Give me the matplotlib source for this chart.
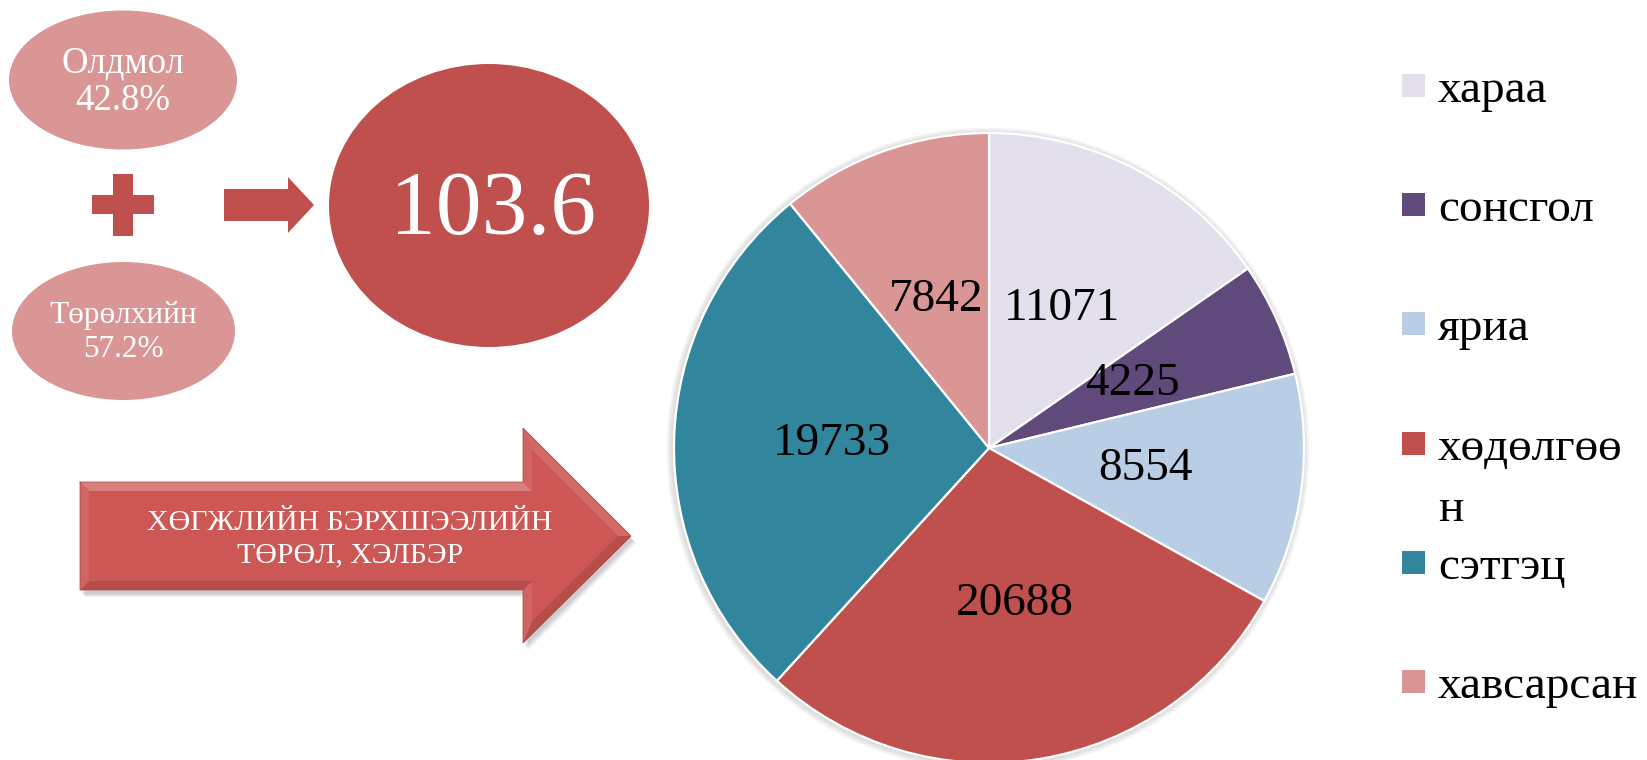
import matplotlib
matplotlib.use('Agg')
import matplotlib.pyplot as plt
from matplotlib.patches import Ellipse, Polygon, Rectangle, Circle
from matplotlib.colors import to_rgb
import numpy as np

# ---------------- data ----------------
categories = ['хараа', 'сонсгол', 'яриа', 'хөдөлгөөн', 'сэтгэц', 'хавсарсан']
legend_labels = ['хараа', 'сонсгол', 'яриа', 'хөдөлгөө\nн', 'сэтгэц', 'хавсарсан']
values = [11071, 4225, 8554, 20688, 19733, 7842]
colors = ['#E4DFEC', '#604A7B', '#B9CDE5', '#C0504D', '#31859C', '#D99694']

acquired_label = 'Олдмол'
acquired_pct = 42.8
congenital_label = 'Төрөлхийн'
congenital_pct = 57.2
total_value = 103.6
arrow_title = ['ХӨГЖЛИЙН БЭРХШЭЭЛИЙН', 'ТӨРӨЛ, ХЭЛБЭР']

# ---------------- figure ----------------
W, H = 1647, 760
fig = plt.figure(figsize=(W / 100, H / 100), dpi=100)
ax = fig.add_axes([0, 0, 1, 1])
SERIF = ['Liberation Serif', 'DejaVu Serif']
RED = '#C0504D'
PINK = '#D99694'


def Y(y):
    return H - y


def P(pts):
    return [(x, Y(y)) for x, y in pts]


# --- pie (with soft shadow) ---
pie_c = (989, Y(448))
pie_r = 315
for k in range(4):
    ax.add_patch(Circle((pie_c[0] - 1, pie_c[1] - 1), pie_r + 2 + 1.5 * k,
                        color='#555555', alpha=0.05, lw=0, zorder=0))

total = sum(values)
wedges, texts, autotexts = ax.pie(
    values, colors=colors, startangle=90, counterclock=False,
    center=pie_c, radius=pie_r,
    autopct=lambda p: f'{p * total / 100:.0f}', pctdistance=0.5,
    wedgeprops=dict(edgecolor='white', linewidth=1.6),
    textprops=dict(fontsize=34, family=SERIF, color='black'),
    frame=True)
for w in wedges:
    w.set_zorder(2)
for t in autotexts:
    t.set_zorder(3)

# --- left ellipses ---
ax.add_patch(Ellipse((123, Y(80)), 228, 139, color=PINK, lw=0))
ax.text(123, Y(72), acquired_label, ha='center', va='baseline', color='white',
        fontsize=26.5, family=SERIF)
ax.text(123, Y(110), f'{acquired_pct}%', ha='center', va='baseline', color='white',
        fontsize=26.5, family=SERIF)

ax.add_patch(Ellipse((123.5, Y(331)), 223, 138, color=PINK, lw=0))
ax.text(123, Y(323), congenital_label, ha='center', va='baseline', color='white',
        fontsize=22.5, family=SERIF)
ax.text(123, Y(357), f'{congenital_pct}%', ha='center', va='baseline', color='white',
        fontsize=22.5, family=SERIF)

# --- plus sign ---
ax.add_patch(Polygon(P([(113, 174), (133, 174), (133, 195), (154, 195), (154, 214),
                        (133, 214), (133, 236), (113, 236), (113, 214), (92, 214),
                        (92, 195), (113, 195)]), closed=True, color=RED, lw=0))

# --- small arrow ---
ax.add_patch(Polygon(P([(224, 189), (288, 189), (288, 177), (314, 205), (288, 233),
                        (288, 221), (224, 221)]), closed=True, color=RED, lw=0))

# --- big circle ---
ax.add_patch(Ellipse((489, Y(205.5)), 320, 283, color=RED, lw=0))
ax.text(493, Y(234), f'{total_value}', ha='center', va='baseline', color='white',
        fontsize=66, family=SERIF)


# --- big bevelled arrow ---
def inset(pts, d):
    pts = np.asarray(pts, float)
    n = len(pts)
    area = 0.5 * np.sum(pts[:, 0] * np.roll(pts[:, 1], -1) - np.roll(pts[:, 0], -1) * pts[:, 1])
    sgn = 1 if area > 0 else -1
    lines = []
    for i in range(n):
        p, q = pts[i], pts[(i + 1) % n]
        t = (q - p) / np.linalg.norm(q - p)
        nrm = np.array([-t[1], t[0]]) * sgn
        lines.append((p + nrm * d, t))
    out = []
    for i in range(n):
        p1, t1 = lines[i - 1]
        p2, t2 = lines[i]
        A = np.array([t1, -t2]).T
        a, b = np.linalg.solve(A, p2 - p1)
        out.append(p1 + a * t1)
    return np.array(out), sgn


big_arrow = np.array(P([(80, 482), (523, 482), (523, 428), (631, 536), (523, 643),
                        (523, 590), (80, 590)]), float)
# shadow
for k in range(4):
    ax.add_patch(Polygon(big_arrow + np.array([2 + k, -4 - k]), closed=True,
                         color='#666666', alpha=0.09, lw=0, zorder=1))
base = np.array(to_rgb('#CD5755'))
ax.add_patch(Polygon(big_arrow, closed=True, color=base, lw=0, zorder=2))
inner, sgn = inset(big_arrow, 9)
light = np.array([-0.35, 1.0])
light = light / np.linalg.norm(light)
n = len(big_arrow)
for i in range(n):
    p, q = big_arrow[i], big_arrow[(i + 1) % n]
    t = (q - p) / np.linalg.norm(q - p)
    n_out = -np.array([-t[1], t[0]]) * sgn
    s = float(np.dot(n_out, light))
    if s >= 0:
        col = base + (1 - base) * 0.25 * s
    else:
        col = base * (1 - 0.12 * (-s))
    quad = [big_arrow[i], big_arrow[(i + 1) % n], inner[(i + 1) % n], inner[i]]
    ax.add_patch(Polygon(quad, closed=True, color=col, lw=0, zorder=3))
ax.plot(*np.vstack([big_arrow, big_arrow[:1]]).T, color='#A84240', lw=0.5, zorder=4)
ax.text(350, Y(530), arrow_title[0], ha='center', va='baseline', color='white',
        fontsize=21.5, family=SERIF, zorder=5)
ax.text(350, Y(562), arrow_title[1], ha='center', va='baseline', color='white',
        fontsize=21.5, family=SERIF, zorder=5)

# --- legend ---
row_y = [85, 204, 323, 443, 562, 681]
for lab, col, ry in zip(legend_labels, colors, row_y):
    ax.add_patch(Rectangle((1402, Y(ry) - 11.5), 23, 23, color=col, lw=0))
    for j, line in enumerate(lab.split('\n')):
        ax.text(1438, Y(ry + 17 + 61 * j), line, ha='left', va='baseline',
                color='black', fontsize=34, family=SERIF)

ax.set_xlim(0, W)
ax.set_ylim(0, H)
ax.set_aspect('equal')
ax.axis('off')
fig.savefig('out.png', dpi=100, facecolor='white')
